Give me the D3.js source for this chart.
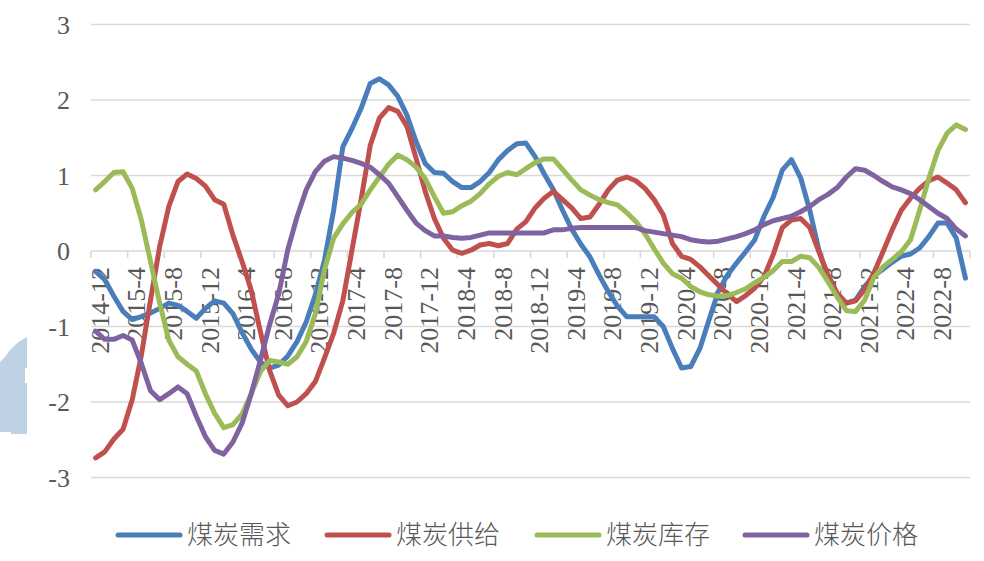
<!DOCTYPE html>
<html>
<head>
<meta charset="utf-8">
<script src="https://cdn.jsdelivr.net/npm/d3@7"></script>
<style>
  html, body { margin: 0; padding: 0; background: #ffffff; }
  svg { display: block; }
</style>
</head>
<body>
<svg id="chart" width="984" height="561"></svg>
<script>
const categories = [
  "2014-12","2015-1","2015-2","2015-3","2015-4","2015-5","2015-6","2015-7","2015-8","2015-9","2015-10","2015-11",
  "2015-12","2016-1","2016-2","2016-3","2016-4","2016-5","2016-6","2016-7","2016-8","2016-9","2016-10","2016-11",
  "2016-12","2017-1","2017-2","2017-3","2017-4","2017-5","2017-6","2017-7","2017-8","2017-9","2017-10","2017-11",
  "2017-12","2018-1","2018-2","2018-3","2018-4","2018-5","2018-6","2018-7","2018-8","2018-9","2018-10","2018-11",
  "2018-12","2019-1","2019-2","2019-3","2019-4","2019-5","2019-6","2019-7","2019-8","2019-9","2019-10","2019-11",
  "2019-12","2020-1","2020-2","2020-3","2020-4","2020-5","2020-6","2020-7","2020-8","2020-9","2020-10","2020-11",
  "2020-12","2021-1","2021-2","2021-3","2021-4","2021-5","2021-6","2021-7","2021-8","2021-9","2021-10","2021-11",
  "2021-12","2022-1","2022-2","2022-3","2022-4","2022-5","2022-6","2022-7","2022-8","2022-9","2022-10","2022-11"
];

const tickLabels = [
  "2014-12","2015-4","2015-8","2015-12","2016-4","2016-8","2016-12","2017-4","2017-8","2017-12",
  "2018-4","2018-8","2018-12","2019-4","2019-8","2019-12","2020-4","2020-8","2020-12","2021-4",
  "2021-8","2021-12","2022-4","2022-8"
];

const yTicks = [3, 2, 1, 0, -1, -2, -3];

const seriesNames = ["煤炭需求", "煤炭供给", "煤炭库存", "煤炭价格"];

const demand = [
  -0.27,-0.38,-0.60,-0.80,-0.91,-0.87,-0.82,-0.76,-0.69,-0.72,
  -0.80,-0.89,-0.76,-0.66,-0.69,-0.83,-1.08,-1.30,-1.47,-1.55,
  -1.51,-1.39,-1.20,-0.94,-0.58,-0.12,0.54,1.38,1.62,1.89,
  2.22,2.28,2.20,2.05,1.80,1.45,1.16,1.04,1.03,0.92,
  0.84,0.84,0.92,1.04,1.21,1.33,1.42,1.43,1.25,1.02,
  0.81,0.54,0.29,0.09,-0.08,-0.32,-0.54,-0.73,-0.87,-0.87,
  -0.87,-0.87,-1.00,-1.29,-1.55,-1.53,-1.29,-0.91,-0.54,-0.32,
  -0.16,-0.01,0.15,0.46,0.71,1.07,1.21,0.97,0.54,0.01,
  -0.36,-0.58,-0.69,-0.65,-0.47,-0.33,-0.24,-0.15,-0.07,-0.04,
  0.04,0.19,0.37,0.37,0.17,-0.36
];

const supply = [
  -2.74,-2.66,-2.49,-2.36,-1.97,-1.38,-0.65,0.06,0.59,0.92,
  1.02,0.96,0.86,0.68,0.62,0.21,-0.14,-0.52,-1.07,-1.58,
  -1.91,-2.05,-2.00,-1.89,-1.73,-1.42,-1.09,-0.66,0.01,0.68,
  1.40,1.76,1.90,1.85,1.65,1.23,0.79,0.43,0.17,0.01,
  -0.03,0.01,0.08,0.10,0.07,0.10,0.29,0.39,0.57,0.70,
  0.79,0.68,0.57,0.43,0.45,0.62,0.81,0.94,0.98,0.93,
  0.83,0.68,0.48,0.10,-0.07,-0.11,-0.21,-0.33,-0.45,-0.57,
  -0.67,-0.59,-0.49,-0.34,-0.05,0.31,0.41,0.43,0.31,-0.01,
  -0.32,-0.56,-0.69,-0.66,-0.51,-0.29,-0.01,0.28,0.54,0.70,
  0.83,0.93,0.98,0.90,0.81,0.64
];

const stock = [
  0.81,0.92,1.04,1.05,0.83,0.41,-0.14,-0.69,-1.18,-1.40,
  -1.50,-1.59,-1.89,-2.15,-2.34,-2.30,-2.16,-1.89,-1.60,-1.45,
  -1.47,-1.50,-1.40,-1.20,-0.83,-0.25,0.17,0.36,0.51,0.62,
  0.81,0.98,1.15,1.27,1.21,1.11,0.96,0.72,0.50,0.52,
  0.60,0.66,0.76,0.89,0.99,1.04,1.01,1.09,1.17,1.22,
  1.22,1.08,0.94,0.81,0.74,0.68,0.64,0.61,0.51,0.39,
  0.23,0.03,-0.16,-0.30,-0.36,-0.47,-0.54,-0.58,-0.60,-0.59,
  -0.55,-0.50,-0.42,-0.35,-0.26,-0.14,-0.14,-0.07,-0.09,-0.22,
  -0.41,-0.61,-0.79,-0.80,-0.65,-0.35,-0.21,-0.11,-0.01,0.15,
  0.54,0.96,1.33,1.56,1.67,1.61
];

const price = [
  -1.06,-1.17,-1.17,-1.12,-1.18,-1.49,-1.85,-1.97,-1.89,-1.80,
  -1.89,-2.19,-2.46,-2.64,-2.69,-2.53,-2.28,-1.89,-1.45,-0.98,
  -0.57,0.02,0.45,0.81,1.05,1.19,1.25,1.23,1.20,1.16,
  1.11,1.01,0.90,0.72,0.54,0.37,0.27,0.20,0.20,0.18,
  0.17,0.18,0.21,0.24,0.24,0.24,0.24,0.24,0.24,0.24,
  0.28,0.28,0.30,0.31,0.31,0.31,0.31,0.31,0.31,0.31,
  0.27,0.25,0.23,0.21,0.19,0.15,0.13,0.12,0.13,0.16,
  0.19,0.23,0.28,0.35,0.40,0.43,0.46,0.52,0.59,0.68,
  0.75,0.84,0.98,1.09,1.07,1.00,0.92,0.85,0.81,0.76,
  0.68,0.59,0.50,0.43,0.29,0.20
];

const seriesValues = [demand, supply, stock, price];
const colors = ["#4a7ebb", "#c0504d", "#9bbb59", "#7f63a1"];

const svg = d3.select("#chart");
const plotLeft = 91, plotRight = 970;

const x = d3.scaleBand().domain(categories).range([plotLeft, plotRight]).padding(0);
const y = d3.scaleLinear().domain([-3, 3]).range([477.5, 24.5]);
const cx = c => x(c) + x.bandwidth() / 2;

// decorative pale blue fragment on left edge
svg.append("path")
  .attr("d", "M0,362 L5,357 L10,350 L15,345 L20,341 L27,337 L27,368 L25,368 L25,383 L27,383 L27,434 L11,434 L11,432 L0,432 Z")
  .attr("fill", "#bfd2e5");

// gridlines
svg.append("g").selectAll("line").data(yTicks).join("line")
  .attr("x1", plotLeft).attr("x2", plotRight)
  .attr("y1", d => y(d)).attr("y2", d => y(d))
  .attr("stroke", "#d9d9d9").attr("stroke-width", 1.6);

// y labels
svg.append("g").selectAll("text").data(yTicks).join("text")
  .attr("x", 70).attr("y", d => y(d)).attr("dy", "0.35em")
  .attr("text-anchor", "end")
  .attr("font-family", "'Liberation Serif', 'Times New Roman', serif")
  .attr("font-size", 26).attr("fill", "#595959")
  .text(d => d);

// x tick marks at category boundaries (every 4)
const tickIdx = d3.range(0, categories.length + 1, 4);
svg.append("g").selectAll("line").data(tickIdx).join("line")
  .attr("x1", i => i < categories.length ? x(categories[i]) : plotRight)
  .attr("x2", i => i < categories.length ? x(categories[i]) : plotRight)
  .attr("y1", y(0)).attr("y2", y(0) + 7)
  .attr("stroke", "#d9d9d9").attr("stroke-width", 1.6);

// x labels rotated
svg.append("g").selectAll("text").data(tickLabels).join("text")
  .attr("transform", d => `translate(${cx(d) + 4},${y(0) + 16}) rotate(-90)`)
  .attr("dy", "0.35em")
  .attr("text-anchor", "end")
  .attr("font-family", "'Liberation Serif', 'Times New Roman', serif")
  .attr("font-size", 26).attr("fill", "#595959")
  .text(d => d);

// lines
const line = d3.line()
  .x((d, i) => cx(categories[i]))
  .y(d => y(d));

svg.append("g").selectAll("path").data(seriesValues).join("path")
  .attr("d", d => line(d))
  .attr("fill", "none")
  .attr("stroke", (d, i) => colors[i])
  .attr("stroke-width", 5)
  .attr("stroke-linejoin", "round")
  .attr("stroke-linecap", "round");

// legend
const legendX = [118, 327, 537, 745];
const lg = svg.append("g").selectAll("g").data(seriesNames).join("g")
  .attr("transform", (d, i) => `translate(${legendX[i]},535)`);
lg.append("line")
  .attr("x1", 0).attr("x2", 62).attr("y1", 0).attr("y2", 0)
  .attr("stroke", (d, i) => colors[i]).attr("stroke-width", 5)
  .attr("stroke-linecap", "round");
lg.append("text")
  .attr("x", 69).attr("y", 0).attr("dy", "0.35em")
  .attr("font-family", "'Noto Sans CJK SC', sans-serif")
  .attr("font-size", 26).attr("font-weight", 300).attr("fill", "#595959")
  .text(d => d);
</script>
</body>
</html>
